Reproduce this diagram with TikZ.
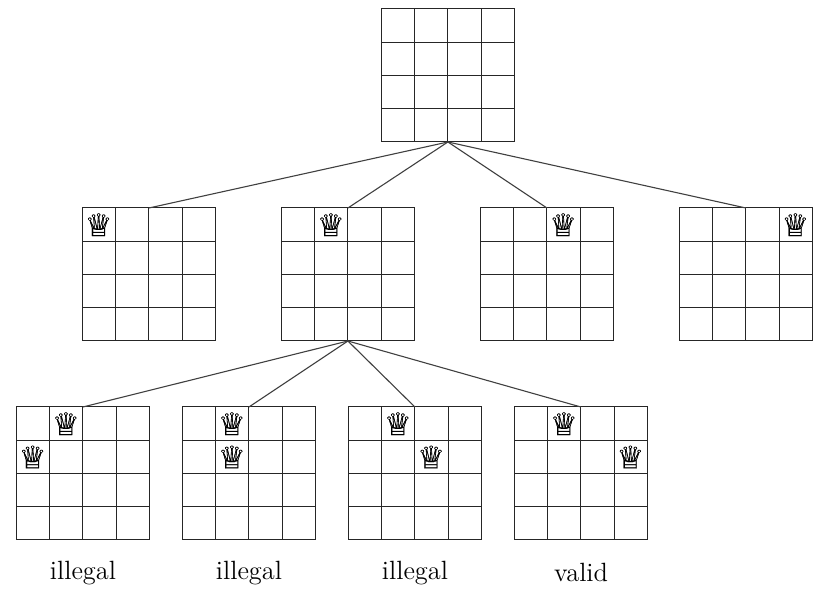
\documentclass[tikz,border=0pt]{standalone}
\usepackage{fontspec}
\newfontfamily\chessfont[FakeBold=0.5]{DejaVu Sans}
\usetikzlibrary{calc}
\tikzset{
  x=0.5pt,y=-0.5pt,
  boardframe/.style={draw=black!85,line width=0.5pt,minimum size=66.5pt,inner sep=0pt,outer sep=0pt,anchor=north west},
  gridline/.style={draw=black!85,line width=0.5pt},
  branch/.style={draw=black!75,line width=0.55pt},
  queen/.style={inner sep=0pt,font=\chessfont\fontsize{15.5}{15.5}\selectfont},
  verdict/.style={inner sep=0pt,anchor=base,font=\fontsize{13.2}{15}\selectfont},
}
% Board of 4x4 cells (33.25 units each), with its top left corner at (#2,#3)
\newcommand{\chessboard}[3]{%
  \node[boardframe] (#1) at (#2,#3) {};
  \foreach \k in {1,2,3}{
    \draw[gridline] ($(#1.north west)+(\k*33.25,0)$) -- ($(#1.south west)+(\k*33.25,0)$);
    \draw[gridline] ($(#1.north west)+(0,\k*33.25)$) -- ($(#1.north east)+(0,\k*33.25)$);
  }%
}
% Queen in column #2 and row #3 (counted from 0) of board #1
\newcommand{\placequeen}[4]{%
  \node[queen] (#4) at ($(#1.north west)+(#2*33.25+16.2,#3*33.25+16.8)$) {♕};%
}
\begin{document}
\begin{tikzpicture}
\useasboundingbox (0,0) rectangle (825,592);

% Root: empty board
\chessboard{root}{381.4}{9.0}

% First queen placed
\chessboard{a}{82.4}{208.0}
\chessboard{b}{281.4}{208.0}
\chessboard{c}{480.4}{208.0}
\chessboard{d}{679.4}{208.0}
\placequeen{a}{0}{0}{qa}
\placequeen{b}{1}{0}{qb}
\placequeen{c}{2}{0}{qc}
\placequeen{d}{3}{0}{qd}

% Second queen placed
\chessboard{e}{16.4}{407.0}
\chessboard{f}{182.4}{407.0}
\chessboard{g}{348.4}{407.0}
\chessboard{h}{514.4}{407.0}
\placequeen{e}{1}{0}{qe}
\placequeen{e}{0}{1}{qee}
\placequeen{f}{1}{0}{qf}
\placequeen{f}{1}{1}{qff}
\placequeen{g}{1}{0}{qg}
\placequeen{g}{2}{1}{qgg}
\placequeen{h}{1}{0}{qh}
\placequeen{h}{3}{1}{qhh}

% Tree edges
\foreach \child in {a,b,c,d}{
  \draw[branch] (root.south) -- (\child.north);
}
\foreach \child in {e,f,g,h}{
  \draw[branch] (b.south) -- (\child.north);
}

% Verdicts
\node[verdict] (le) at (83,579.5) {illegal};
\node[verdict] (lf) at (249,579.5) {illegal};
\node[verdict] (lg) at (415,579.5) {illegal};
\node[verdict] (lh) at (581,581.5) {valid};
\end{tikzpicture}
\end{document}
